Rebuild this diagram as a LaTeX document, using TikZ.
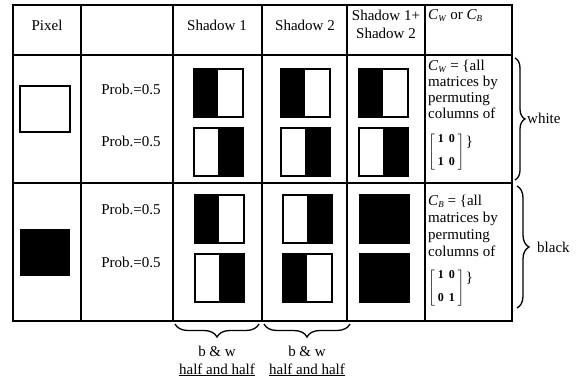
\documentclass[tikz,border=0pt]{standalone}
\usepackage{fontspec}
\setmainfont{Liberation Serif}
\usetikzlibrary{decorations.pathreplacing}

% C with an italic subscript, as in C_W and C_B
\newcommand\Csub[1]{\textit{C}\raisebox{-0.4ex}{\fontsize{9}{9}\selectfont\textit{#1}}}
% small two-by-two matrix in square brackets
\newcommand\twobytwo[4]{$\left[\mbox{\fontsize{12}{12}\selectfont\bfseries
  \begin{tabular}{@{\hspace{3pt}}c@{\hspace{5pt}}c@{\hspace{3pt}}}#1&#2\\[11pt]#3&#4\end{tabular}}\right]$}

\tikzset{
  x=1pt, y=-1pt,
  gridline/.style={line width=1.6pt},
  txt/.style={font=\fontsize{15}{17}\selectfont, inner sep=0pt},
  boxline/.style={line width=2pt},
  bracedeco/.style={decorate, decoration={brace, amplitude=#1}, line width=1.3pt},
  bracedeco/.default=10pt,
  % share: black left half, white right half
  blackleft/.pic={\fill (-24.5,-24) rectangle (0,24);
                  \draw[boxline] (-24.5,-24) rectangle (24.5,24);},
  % share: white left half, black right half
  blackright/.pic={\fill (0,-24) rectangle (24.5,24);
                   \draw[boxline] (-24.5,-24) rectangle (24.5,24);},
  % fully black share
  allblack/.pic={\fill[draw, boxline] (-24.5,-24) rectangle (24.5,24);},
}

\begin{document}
\begin{tikzpicture}
\useasboundingbox (0,0) rectangle (578,380);

% table grid
\draw[gridline] (13,5) rectangle (512,321);
\draw[gridline] (13,55) -- (512,55);
\draw[gridline] (13,183) -- (512,183);
\foreach \cx in {81,173,262,347,425}
  \draw[gridline] (\cx,5) -- (\cx,321);

% header
\node[txt] (hpix) at (47,25) {Pixel};
\node[txt] (hs1) at (217,25) {Shadow 1};
\node[txt] (hs2) at (305,25) {Shadow 2};
\node[txt, align=center, font=\fontsize{15}{18}\selectfont] (hsum) at (386,24) {Shadow 1+\\Shadow 2};
\node[txt, anchor=base west] (hc) at (428,19) {\Csub{W} or \Csub{B}};

% secret pixels
\draw[boxline] (20,86) rectangle (70,132);
\fill (20,229) rectangle (70,276);

% probabilities
\node[txt] (p1) at (131,89) {Prob.=0.5};
\node[txt] (p2) at (131,141) {Prob.=0.5};
\node[txt] (p3) at (131,209) {Prob.=0.5};
\node[txt] (p4) at (131,262) {Prob.=0.5};

% shares for a white pixel
\pic at (218,93) {blackleft};
\pic at (218,152) {blackright};
\pic at (305,93) {blackleft};
\pic at (305,152) {blackright};
\pic at (383,93) {blackleft};
\pic at (383,152) {blackright};

% shares for a black pixel
\pic at (219,218.5) {blackleft};
\pic at (219,277.5) {blackright};
\pic at (307,218.5) {blackright};
\pic at (307,277.5) {blackleft};
\pic at (384,218.5) {allblack};
\pic at (384,277.5) {allblack};

% basis matrices, white
\node[txt, anchor=base west] (w1) at (428,70) {\Csub{W} = \{all};
\node[txt, anchor=base west] (w2) at (428,86) {matrices by};
\node[txt, anchor=base west] (w3) at (428,102) {permuting};
\node[txt, anchor=base west] (w4) at (428,118) {columns of};
\node[anchor=west, inner sep=0pt] (mw) at (428,152) {\twobytwo{1}{0}{1}{0}};
\node[txt, anchor=north west] (cw) at ([xshift=1pt, yshift=-2pt]mw.north east) {\}};

% basis matrices, black
\node[txt, anchor=base west] (b1) at (428,205) {\Csub{B} = \{all};
\node[txt, anchor=base west] (b2) at (428,222) {matrices by};
\node[txt, anchor=base west] (b3) at (428,239) {permuting};
\node[txt, anchor=base west] (b4) at (428,256) {columns of};
\node[anchor=west, inner sep=0pt] (mb) at (428,288) {\twobytwo{1}{0}{0}{1}};
\node[txt, anchor=north west] (cb) at ([xshift=1pt, yshift=-2pt]mb.north east) {\}};

% right braces with pixel colours
\coordinate (wt) at (515,58);
\coordinate (wb) at (515,180);
\draw[bracedeco] (wt) -- (wb);
\node[txt, anchor=west] (white) at (527,118) {white};
\coordinate (bt) at (517,186);
\coordinate (bb) at (517,308);
\draw[bracedeco=12pt] (bt) -- (bb);
\node[txt, anchor=west] (black) at (537,247) {black};

% braces under the share columns
\coordinate (s1r) at (259,324);
\coordinate (s1l) at (175,324);
\draw[bracedeco=13pt] (s1r) -- (s1l);
\coordinate (s2r) at (350,324);
\coordinate (s2l) at (264,324);
\draw[bracedeco=13pt] (s2r) -- (s2l);
\node[txt, align=center, font=\fontsize{15}{18}\selectfont] (hh1) at (217,361) {b \& w\\\underline{half and half}};
\node[txt, align=center, font=\fontsize{15}{18}\selectfont] (hh2) at (307,361) {b \& w\\\underline{half and half}};
\end{tikzpicture}
\end{document}
